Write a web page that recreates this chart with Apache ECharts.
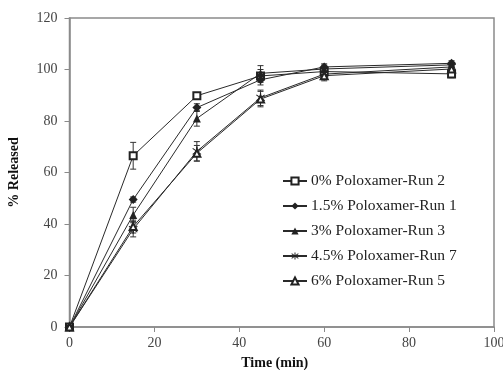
<!DOCTYPE html>
<html><head><meta charset="utf-8">
<script src="https://cdn.jsdelivr.net/npm/echarts@6/dist/echarts.min.js"></script>
<style>html,body{margin:0;padding:0;background:#fff}#c{width:503px;height:370px}</style>
</head><body><div id="c"></div>
<script>
const times = [0, 15, 30, 45, 60, 90];
const seriesNames = ['0% Poloxamer-Run 2','1.5% Poloxamer-Run 1','3% Poloxamer-Run 3','4.5% Poloxamer-Run 7','6% Poloxamer-Run 5'];
const run2 = [0, 66.5, 89.8, 97.5, 99.2, 98.3];
const run1 = [0, 49.5, 85.2, 96.0, 101.0, 102.4];
const run3 = [0, 43.5, 81.0, 98.5, 100.2, 101.8];
const run7 = [0, 38.0, 68.2, 89.0, 98.2, 101.0];
const run5 = [0, 39.0, 67.5, 88.5, 97.6, 100.2];
const err2 = [0, 5.2, 1.0, 2.5, 1.5, 1.5];
const err1 = [0, 1.0, 1.5, 2.0, 1.2, 1.0];
const err3 = [0, 3.0, 3.0, 3.0, 1.5, 1.0];
const err7 = [0, 3.0, 3.8, 3.0, 2.0, 1.0];
const err5 = [0, 2.5, 3.0, 3.0, 2.0, 1.0];
const xTicks = [0, 20, 40, 60, 80, 100];
const yTicks = [0, 20, 40, 60, 80, 100, 120];

const values = [run2, run1, run3, run7, run5];
const errs = [err2, err1, err3, err7, err5];
const asterisk = 'path://M4.4 0H5.6V10H4.4Z M0.6 2.2L1.2 1.2L9.4 7.8L8.8 8.8Z M0.6 7.8L1.2 8.8L9.4 2.2L8.8 1.2Z';
const symbols = ['emptyRect', 'diamond', 'triangle', asterisk, 'emptyTriangle'];
const sizes = [7, 9, 8, 9, 7];
const lineColor = '#2a2a2a';
const font = 'Liberation Serif';

const series = [];
values.forEach((vals, i) => {
  series.push({
    name: seriesNames[i], type: 'line',
    data: times.map((t, j) => [t, vals[j]]),
    symbol: symbols[i], symbolSize: sizes[i],
    showAllSymbol: true,
    lineStyle: {color: lineColor, width: 1},
    itemStyle: {color: '#222', borderWidth: 1},
    emphasis: {disabled: true}, z: 3
  });
  series.push({
    type: 'custom', silent: true, z: 2,
    data: times.map((t, j) => [t, vals[j] - errs[i][j], vals[j] + errs[i][j]]),
    renderItem: function (params, api) {
      const lo = api.coord([api.value(0), api.value(1)]);
      const hi = api.coord([api.value(0), api.value(2)]);
      const w = 3;
      return {type: 'group', children: [
        {type: 'line', shape: {x1: lo[0], y1: lo[1], x2: hi[0], y2: hi[1]}, style: {stroke: '#333', lineWidth: 1}},
        {type: 'line', shape: {x1: lo[0]-w, y1: lo[1], x2: lo[0]+w, y2: lo[1]}, style: {stroke: '#333', lineWidth: 1}},
        {type: 'line', shape: {x1: hi[0]-w, y1: hi[1], x2: hi[0]+w, y2: hi[1]}, style: {stroke: '#333', lineWidth: 1}}
      ]};
    }
  });
});

const chart = echarts.init(document.getElementById('c'), null, {renderer: 'canvas'});
chart.setOption({
  animation: false,
  backgroundColor: '#fff',
  grid: {left: 69.5, right: 9, top: 18, bottom: 43, show: true, borderColor: '#8a8a8a', borderWidth: 1.5,
    containLabel: false, outerBoundsMode: 'none'},
  legend: {
    data: seriesNames, orient: 'vertical', left: 277, top: 168, itemGap: 9,
    itemWidth: 24, itemHeight: 9,
    textStyle: {fontFamily: font, fontSize: 15.5, color: '#222', padding: [0, 0, 0, -1]},
    selectedMode: false
  },
  xAxis: {
    type: 'value', min: 0, max: 100, interval: 20,
    name: 'Time (min)', nameLocation: 'middle', nameGap: 29,
    nameTextStyle: {fontFamily: font, fontWeight: 'bold', fontSize: 14, color: '#111', padding: [0, 14, 0, 0]},
    axisLine: {lineStyle: {color: '#8a8a8a', width: 1.5}},
    axisTick: {show: true, inside: false, length: 5, lineStyle: {color: '#8a8a8a'}},
    axisLabel: {fontFamily: font, fontSize: 14, color: '#444', margin: 9,
      formatter: v => xTicks.includes(v) ? String(v) : ''},
    splitLine: {show: false}
  },
  yAxis: {
    type: 'value', min: 0, max: 120, interval: 20,
    name: '% Released', nameLocation: 'middle', nameGap: 48, nameRotate: 90,
    nameTextStyle: {fontFamily: font, fontWeight: 'bold', fontSize: 14, color: '#111'},
    axisLine: {lineStyle: {color: '#8a8a8a', width: 1.5}},
    axisTick: {show: true, inside: false, length: 5, lineStyle: {color: '#8a8a8a'}},
    axisLabel: {fontFamily: font, fontSize: 14, color: '#444', margin: 12,
      formatter: v => yTicks.includes(v) ? String(v) : ''},
    splitLine: {show: false}
  },
  series: series
});
</script></body></html>
